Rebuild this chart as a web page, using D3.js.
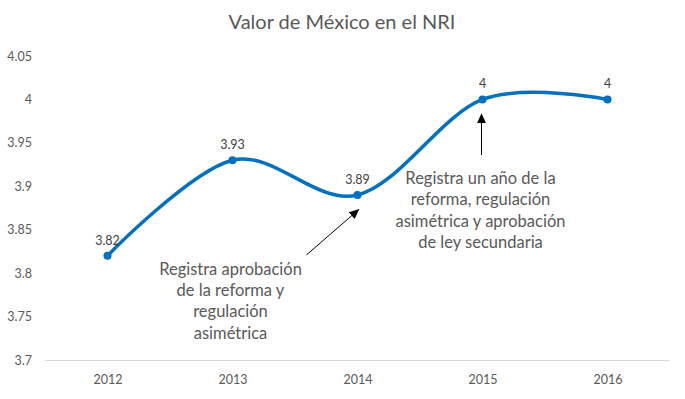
<!DOCTYPE html>
<html>
<head>
<meta charset="utf-8">
<script src="https://cdn.jsdelivr.net/npm/d3@7"></script>
<style>
  body { margin: 0; background: #fff; }
  text { font-family: Lato, "Open Sans", sans-serif; }
</style>
</head>
<body>
<script>
var years = ["2012", "2013", "2014", "2015", "2016"];
var values = [3.82, 3.93, 3.89, 4, 4];
var yTicks = [3.7, 3.75, 3.8, 3.85, 3.9, 3.95, 4, 4.05];
var notes = [
  { year: "2013", value: 3.798, lines: ["Registra aprobación", "de la reforma y", "regulación", "asimétrica"] },
  { year: "2015", value: 3.9025, lines: ["Registra un año de la", "reforma, regulación", "asimétrica y aprobación", "de ley secundaria"] }
];

var width = 685, height = 399;
var margin = { top: 56, right: 15, bottom: 39, left: 45 };

var svg = d3.select("body").append("svg")
  .attr("width", width)
  .attr("height", height);

var defs = svg.append("defs");
defs.append("marker")
  .attr("id", "arrow")
  .attr("viewBox", "0 0 10 10")
  .attr("refX", 9).attr("refY", 5)
  .attr("markerWidth", 10).attr("markerHeight", 10)
  .attr("markerUnits", "userSpaceOnUse")
  .attr("orient", "auto")
  .append("path")
  .attr("d", "M0,0.5 L10,5 L0,9.5 z")
  .attr("fill", "#000");

var x = d3.scalePoint()
  .domain(years)
  .range([margin.left, width - margin.right])
  .padding(0.5);

var y = d3.scaleLinear()
  .domain([3.7, 4.05])
  .range([height - margin.bottom, margin.top]);

// title
svg.append("text")
  .attr("x", 342).attr("y", 29)
  .attr("text-anchor", "middle")
  .attr("font-size", "20px")
  .attr("fill", "#595959")
  .text("Valor de México en el NRI");

// y axis
var yAxis = svg.append("g")
  .attr("transform", "translate(" + margin.left + ",0)")
  .call(d3.axisLeft(y).tickValues(yTicks).tickSize(0).tickPadding(13).tickFormat(d3.format("")));
yAxis.select(".domain").remove();
yAxis.selectAll("text").attr("font-size", "12.5px").attr("fill", "#595959").attr("font-family", "Lato, sans-serif");

// x axis
var xAxis = svg.append("g")
  .attr("transform", "translate(0," + (height - margin.bottom) + ")")
  .call(d3.axisBottom(x).tickSize(0).tickPadding(15));
xAxis.select(".domain").attr("stroke", "#d9d9d9").attr("d", "M" + margin.left + ",0.5H" + (width - margin.right));
xAxis.selectAll("text").attr("font-size", "12.5px").attr("fill", "#595959").attr("font-family", "Lato, sans-serif");

// line
var line = d3.line()
  .x(function(d, i) { return x(years[i]); })
  .y(function(d) { return y(d); })
  .curve(d3.curveCardinal.tension(0));

svg.append("path")
  .datum(values)
  .attr("d", line)
  .attr("fill", "none")
  .attr("stroke", "#0070c0")
  .attr("stroke-width", 3.5)
  .attr("stroke-linecap", "round");

svg.selectAll(".pt")
  .data(values)
  .enter().append("circle")
  .attr("class", "pt")
  .attr("cx", function(d, i) { return x(years[i]); })
  .attr("cy", function(d) { return y(d); })
  .attr("r", 4)
  .attr("fill", "#0070c0");

svg.selectAll(".lbl")
  .data(values)
  .enter().append("text")
  .attr("class", "lbl")
  .attr("x", function(d, i) { return x(years[i]); })
  .attr("y", function(d) { return y(d) - 11; })
  .attr("text-anchor", "middle")
  .attr("font-size", "12.5px")
  .attr("fill", "#404040")
  .text(function(d) { return d; });

// arrows
svg.append("line")
  .attr("x1", x("2013") + 74).attr("y1", y(3.821))
  .attr("x2", x("2014") + 1).attr("y2", y(3.873))
  .attr("stroke", "#000").attr("stroke-width", 1)
  .attr("marker-end", "url(#arrow)");

svg.append("line")
  .attr("x1", x("2015") - 1).attr("y1", y(3.936))
  .attr("x2", x("2015") - 1).attr("y2", y(3.983))
  .attr("stroke", "#000").attr("stroke-width", 1)
  .attr("marker-end", "url(#arrow)");

// annotation text
notes.forEach(function(n) {
  var t = svg.append("text")
    .attr("text-anchor", "middle")
    .attr("font-size", "16.5px")
    .attr("fill", "#595959");
  n.lines.forEach(function(l, i) {
    t.append("tspan")
      .attr("x", x(n.year) - 2)
      .attr("y", y(n.value) + i * 21.3)
      .text(l);
  });
});
</script>
</body>
</html>
